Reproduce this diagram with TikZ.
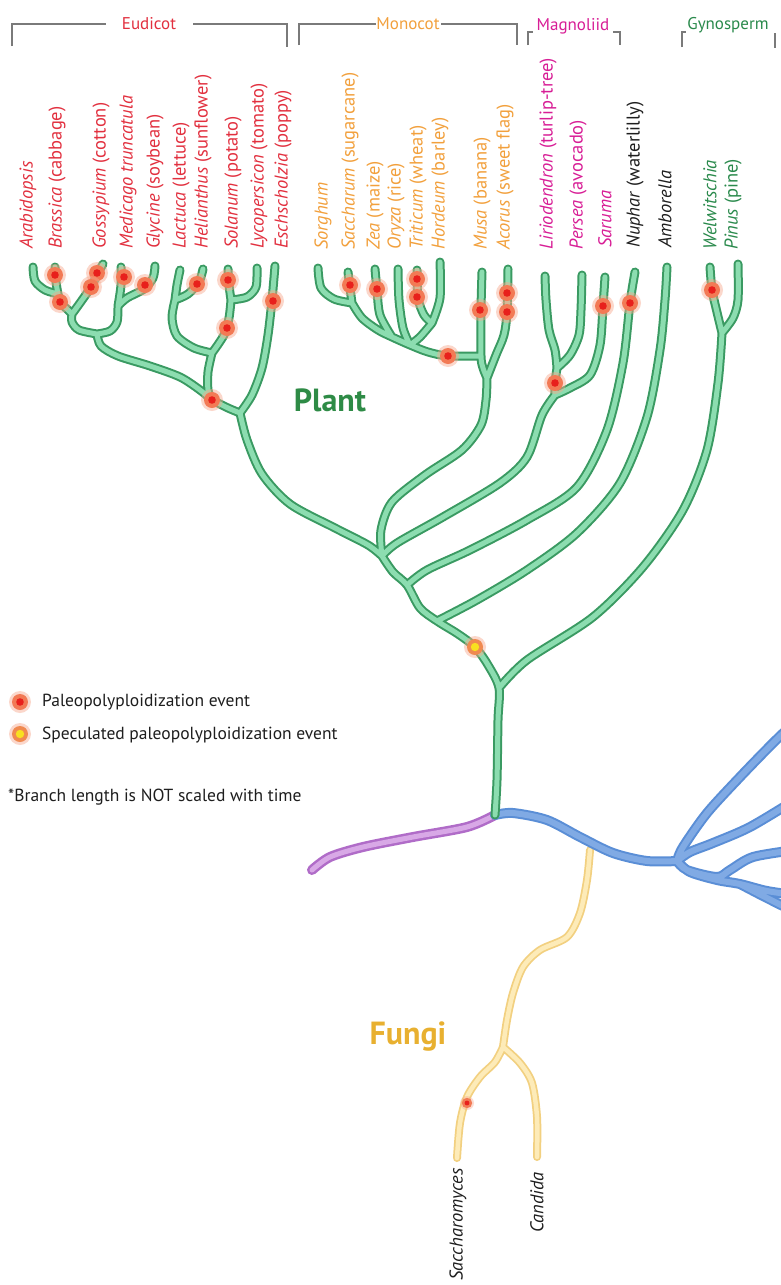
\documentclass[tikz,border=0pt]{standalone}
\usepackage{fontspec}
\setmainfont{PT Sans}
\definecolor{gdark}{HTML}{3A9A62}
\definecolor{glight}{HTML}{8CDDB0}
\definecolor{bdark}{HTML}{5A8ED6}
\definecolor{blight}{HTML}{80AAE4}
\definecolor{pdark}{HTML}{B06CC8}
\definecolor{plight}{HTML}{D8A8E6}
\definecolor{ydark}{HTML}{F2D080}
\definecolor{ylight}{HTML}{FDEBB8}
\definecolor{eud}{HTML}{E2303F}
\definecolor{mono}{HTML}{F2A03C}
\definecolor{magn}{HTML}{D81E96}
\definecolor{blk}{HTML}{1E1E1E}
\definecolor{gymn}{HTML}{2A8A4C}
\definecolor{plantg}{HTML}{2E8B46}
\definecolor{fung}{HTML}{E8B030}
\definecolor{brkgray}{HTML}{7A7A7A}
\definecolor{ringc}{HTML}{F27A55}
\definecolor{glowc}{HTML}{F7A88C}
\definecolor{corec}{HTML}{E8201C}
\definecolor{specring}{HTML}{F08A50}
\definecolor{speccore}{HTML}{F8E020}
\newcommand\greenpaths{
 plot[smooth] coordinates {(tA) (35,281) (45,290) (jAB)}
 plot[smooth] coordinates {(tB) (56,282) (jAB)}
 plot[smooth] coordinates {(jAB) (61,303) (68,310) (jABG)}
 plot[smooth] coordinates {(tGo) (98,273) (91,287) (80,303) (jABG)}
 plot[smooth] coordinates {(jABG) (72,322) (79,330) (J1)}
 plot[smooth] coordinates {(tMe) (121,285) (119,300) (jMG)}
 plot[smooth] coordinates {(tGl) (153,278) (144,289) (127,298) (jMG)}
 plot[smooth] coordinates {(jMG) (117,322) (110,331) (J1)}
 plot[smooth] coordinates {(J1) (101,346) (118,356) (150,366) (180,377) (200,390) (J2)}
 plot[smooth] coordinates {(tLa) (177,285) (jLH)}
 plot[smooth] coordinates {(tHe) (199,282) (188,294) (jLH)}
 plot[smooth] coordinates {(jLH) (172,318) (177,336) (194,348) (J4)}
 plot[smooth] coordinates {(tSo) (229,285) (jSL)}
 plot[smooth] coordinates {(tLy) (256,287) (247,297) (jSL)}
 plot[smooth] coordinates {(jSL) (229,318) (224,335) (J4)}
 plot[smooth] coordinates {(J4) (208,372) (208,390) (J2)}
 plot[smooth] coordinates {(tEs) (272,300) (268,335) (262,368) (252,395) (J3)}
 plot[smooth] coordinates {(J2) (228,408) (J3)}
 plot[smooth] coordinates {(J3) (247,440) (262,474) (290,504) (335,528) (368,545) (J5)}
 plot[smooth] coordinates {(tSg) (321,288) (334,299) (jSS)}
 plot[smooth] coordinates {(tSc) (350,288) (jSS)}
 plot[smooth] coordinates {(jSS) (362,318) (378,330) (jZ) (jO) (428,352) (448,356) (jMu)}
 plot[smooth] coordinates {(tZe) (377,290) (380,315) (jZ)}
 plot[smooth] coordinates {(tOr) (399,300) (403,328) (jO)}
 plot[smooth] coordinates {(tTr) (418,298) (424,315) (jTH)}
 plot[smooth] coordinates {(tHo) (440,298) (jTH)}
 plot[smooth] coordinates {(jTH) (420,337) (jO)}
 plot[smooth] coordinates {(tMu) (481,310) (jMu) (483,368) (jMA)}
 plot[smooth] coordinates {(tAc) (507,312) (504,335) (496,355) (jMA)}
 plot[smooth] coordinates {(jMA) (486,400) (481,425) (462,450) (425,475) (392,502) (381,530) (J5)}
 plot[smooth] coordinates {(tLi) (546,300) (549,330) (555,350) (jLP)}
 plot[smooth] coordinates {(tPe) (581,310) (579,335) (570,355) (jLP)}
 plot[smooth] coordinates {(jLP) (555,383) (jLPS)}
 plot[smooth] coordinates {(tSa) (603,306) (600,345) (590,375) (570,388) (jLPS)}
 plot[smooth] coordinates {(jLPS) (542,415) (527,457) (500,483) (443,517) (397,543) (J5)}
 plot[smooth] coordinates {(tNu) (630,303) (623,363) (607,430) (577,487) (527,520) (470,550) (427,570) (J6)}
 plot[smooth] coordinates {(tAm) (665,300) (660,350) (647,417) (620,483) (577,533) (527,570) (477,600) (J7)}
 plot[smooth] coordinates {(tWe) (712,290) (716,308) (jWP)}
 plot[smooth] coordinates {(tPi) (738,300) (733,318) (jWP)}
 plot[smooth] coordinates {(jWP) (718,383) (707,450) (683,510) (643,567) (593,617) (527,660) (J8)}
 plot[smooth] coordinates {(J5) (393,572) (J6) (420,608) (J7) (458,634) (475,647) (488,665) (J8) (498,720) (497,780) (R)}
}
\newcommand\bluepaths{
 plot[smooth] coordinates {(R) (513,813) (547,820) (580,837) (613,853) (647,861) (JB)}
 plot[smooth] coordinates {(JB) (683,847) (707,813) (740,777) (773,743) (795,722)}
 plot[smooth] coordinates {(JB) (690,852) (713,843) (750,827) (795,800)}
 plot[smooth] coordinates {(JB) (687,870) (717,877) (730,870) (753,857) (795,850)}
 plot[smooth] coordinates {(JB) (690,872) (717,880) (740,884) (767,891) (795,895)}
 plot[smooth] coordinates {(740,884) (765,897) (795,912)}
}
\tikzset{
 tube/.style={line cap=round,line join=round},
 gout/.style={tube,draw=gdark,line width=9pt},
 gin/.style={tube,draw=glight,line width=5pt},
 bout/.style={tube,draw=bdark,line width=10pt},
 bin/.style={tube,draw=blight,line width=6pt},
 pout/.style={tube,draw=pdark,line width=10pt},
 pin/.style={tube,draw=plight,line width=5pt},
 yout/.style={tube,draw=ydark,line width=8pt},
 yin/.style={tube,draw=ylight,line width=4.5pt},
 brk/.style={draw=brkgray,line width=1.4pt},
 sp/.style={rotate=90,anchor=west,inner sep=0pt,font=\fontsize{18.5}{20}\selectfont},
 grp/.style={inner sep=1pt,font=\fontsize{17}{19}\selectfont},
 leg/.style={anchor=west,inner sep=0pt,text=blk,font=\fontsize{17.5}{19}\selectfont},
 big/.style={font=\bfseries\fontsize{32}{34}\selectfont},
 evdot/.pic={\fill[glowc,opacity=0.45] (0,0) circle (11pt);
   \fill[ringc] (0,0) circle (8pt);
   \fill[corec] (0,0) circle (3.8pt);},
 spdot/.pic={\fill[glowc,opacity=0.45] (0,0) circle (11pt);
   \fill[specring] (0,0) circle (8pt);
   \fill[speccore] (0,0) circle (4.2pt);},
 smdot/.pic={\fill[glowc,opacity=0.4] (0,0) circle (7pt);
   \fill[ringc] (0,0) circle (5.2pt);
   \fill[corec] (0,0) circle (2.4pt);}
}
\begin{document}
\begin{tikzpicture}[x=1pt,y=-1pt]
\fill[white] (0,0) rectangle (781,1285);
\useasboundingbox (0,0) rectangle (781,1285);
% named points of the plant tree
\coordinate (tA) at (33,267);   \coordinate (tB) at (55,267);
\coordinate (jAB) at (58,294);  \coordinate (tGo) at (103,264);
\coordinate (jABG) at (72,314); \coordinate (J1) at (97,334);
\coordinate (tMe) at (121,267); \coordinate (tGl) at (155,266);
\coordinate (jMG) at (118,306); \coordinate (J2) at (212,400);
\coordinate (tLa) at (180,270); \coordinate (tHe) at (203,269);
\coordinate (jLH) at (175,300); \coordinate (J4) at (212,353);
\coordinate (tSo) at (228,269); \coordinate (tLy) at (257,268);
\coordinate (jSL) at (231,300); \coordinate (tEs) at (275,266);
\coordinate (J3) at (240,413);  \coordinate (J5) at (382,556);
\coordinate (tSg) at (318,268); \coordinate (tSc) at (348,272);
\coordinate (jSS) at (352,303); \coordinate (tZe) at (375,269);
\coordinate (jZ) at (392,337);  \coordinate (tOr) at (398,269);
\coordinate (jO) at (410,345);  \coordinate (tTr) at (417,270);
\coordinate (tHo) at (440,262); \coordinate (jTH) at (432,323);
\coordinate (tMu) at (482,272); \coordinate (jMu) at (481,356);
\coordinate (tAc) at (508,269); \coordinate (jMA) at (487,378);
\coordinate (tLi) at (545,276); \coordinate (tPe) at (582,275);
\coordinate (jLP) at (557,368); \coordinate (tSa) at (605,277);
\coordinate (jLPS) at (555,395); \coordinate (tNu) at (635,272);
\coordinate (J6) at (407,585);  \coordinate (tAm) at (667,267);
\coordinate (J7) at (437,621);  \coordinate (tWe) at (710,267);
\coordinate (tPi) at (738,264); \coordinate (jWP) at (722,333);
\coordinate (J8) at (499,688);  \coordinate (R) at (495,815);
\coordinate (JB) at (677,861);  \coordinate (fS) at (590,850);
\coordinate (jF) at (503,1047); \coordinate (tSy) at (457,1158);
\coordinate (tCa) at (537,1157); \coordinate (pE) at (312,870);
% fungi (under the blue branch)
\draw[yout] plot[smooth] coordinates {(fS) (587,880) (580,913) (567,937) (540,950) (523,967) (513,993) (507,1020) (jF)}
  plot[smooth] coordinates {(jF) (495,1062) (480,1077) (467,1097) (460,1123) (tSy)}
  plot[smooth] coordinates {(jF) (520,1063) (532,1083) (537,1117) (tCa)};
\draw[yin] plot[smooth] coordinates {(fS) (587,880) (580,913) (567,937) (540,950) (523,967) (513,993) (507,1020) (jF)}
  plot[smooth] coordinates {(jF) (495,1062) (480,1077) (467,1097) (460,1123) (tSy)}
  plot[smooth] coordinates {(jF) (520,1063) (532,1083) (537,1117) (tCa)};
% purple branch
\draw[pout] plot[smooth] coordinates {(R) (467,827) (413,837) (363,847) (330,857) (pE)};
\draw[pin] plot[smooth] coordinates {(R) (467,827) (413,837) (363,847) (330,857) (pE)};
% blue branches
\draw[bout] \bluepaths;
\draw[bin] \bluepaths;
% green plant tree
\draw[gout] \greenpaths;
\draw[gin] \greenpaths;
% events
\foreach \p in {(55,275),(60,302),(97,273),(91,287),(124,277),(145,285),(197,284),(228,280),(227,328),(273,301),(212,400),
  (350,285),(377,289),(417,279),(417,297),(448,356),(480,310),(507,293),(507,312),
  (555,383),(603,306),(630,303),(712,290)}
  \pic at \p {evdot};
\pic at (475,647) {spdot};
\pic at (467,1103) {smdot};
% group brackets
\draw[brk] (12,46) -- (12,24) -- (106,24);
\draw[brk] (193,24) -- (287,24) -- (287,47);
\node[grp,text=eud] (gEud) at (149,24) {Eudicot};
\draw[brk] (299,45) -- (299,24) -- (376,24);
\draw[brk] (441,24) -- (517,24) -- (517,45);
\node[grp,text=mono] (gMono) at (408,24) {Monocot};
\draw[brk] (528,45) -- (528,32) -- (533,32);
\draw[brk] (613,32) -- (620,32) -- (620,45);
\node[grp,text=magn] (gMagn) at (573,26) {Magnoliid};
\draw[brk] (682,47) -- (682,32) -- (686,32);
\draw[brk] (775,33) -- (775,48);
\node[grp,text=gymn] (gGymn) at (728,25) {Gynosperm};
% species labels
\node[sp,text=eud] (lAra) at (28,249) {\textit{Arabidopsis}};
\node[sp,text=eud] (lBra) at (57,249) {\textit{Brassica} (cabbage)};
\node[sp,text=eud] (lGos) at (101,249) {\textit{Gossypium} (cotton)};
\node[sp,text=eud] (lMed) at (128,249) {\textit{Medicago truncatula}};
\node[sp,text=eud] (lGly) at (155,249) {\textit{Glycine} (soybean)};
\node[sp,text=eud] (lLac) at (181,249) {\textit{Lactuca} (lettuce)};
\node[sp,text=eud] (lHel) at (203,249) {\textit{Helianthus} (sunflower)};
\node[sp,text=eud] (lSol) at (233,249) {\textit{Solanum} (potato)};
\node[sp,text=eud] (lLyc) at (259,249) {\textit{Lycopersicon} (tomato)};
\node[sp,text=eud] (lEsc) at (283,249) {\textit{Eschscholzia} (poppy)};
\node[sp,text=mono] (lSor) at (323,250) {\textit{Sorghum}};
\node[sp,text=mono] (lSac) at (350,250) {\textit{Saccharum} (sugarcane)};
\node[sp,text=mono] (lZea) at (375,250) {\textit{Zea} (maize)};
\node[sp,text=mono] (lOry) at (396,250) {\textit{Oryza} (rice)};
\node[sp,text=mono] (lTri) at (418,250) {\textit{Triticum} (wheat)};
\node[sp,text=mono] (lHor) at (440,250) {\textit{Hordeum} (barley)};
\node[sp,text=mono] (lMus) at (482,250) {\textit{Musa} (banana)};
\node[sp,text=mono] (lAco) at (505,250) {\textit{Acorus} (sweet flag)};
\node[sp,text=magn] (lLir) at (548,250) {\textit{Liriodendron} (turlip-tree)};
\node[sp,text=magn] (lPer) at (578,250) {\textit{Persea} (avocado)};
\node[sp,text=magn] (lSar) at (605,248) {\textit{Saruma}};
\node[sp,text=blk] (lNup) at (635,248) {\textit{Nuphar} (waterlilly)};
\node[sp,text=blk] (lAmb) at (665,248) {\textit{Amborella}};
\node[sp,text=gymn] (lWel) at (710,250) {\textit{Welwitschia}};
\node[sp,text=gymn] (lPin) at (733,250) {\textit{Pinus} (pine)};
\node[sp,anchor=east,text=blk] (lSay) at (458,1168) {\textit{Saccharomyces}};
\node[sp,anchor=east,text=blk] (lCan) at (537,1172) {\textit{Candida}};
% big labels
\node[big,text=plantg] (lPlant) at (330,400) {Plant};
\node[big,text=fung] (lFungi) at (408,1037) {Fungi};
% legend
\pic at (20,702) {evdot};
\pic at (20,734) {spdot};
\node[leg] (lg1) at (42,702) {Paleopolyploidization event};
\node[leg] (lg2) at (42,735) {Speculated paleopolyploidization event};
\node[leg] (lg3) at (8,797) {*Branch length is NOT scaled with time};
\end{tikzpicture}
\end{document}
